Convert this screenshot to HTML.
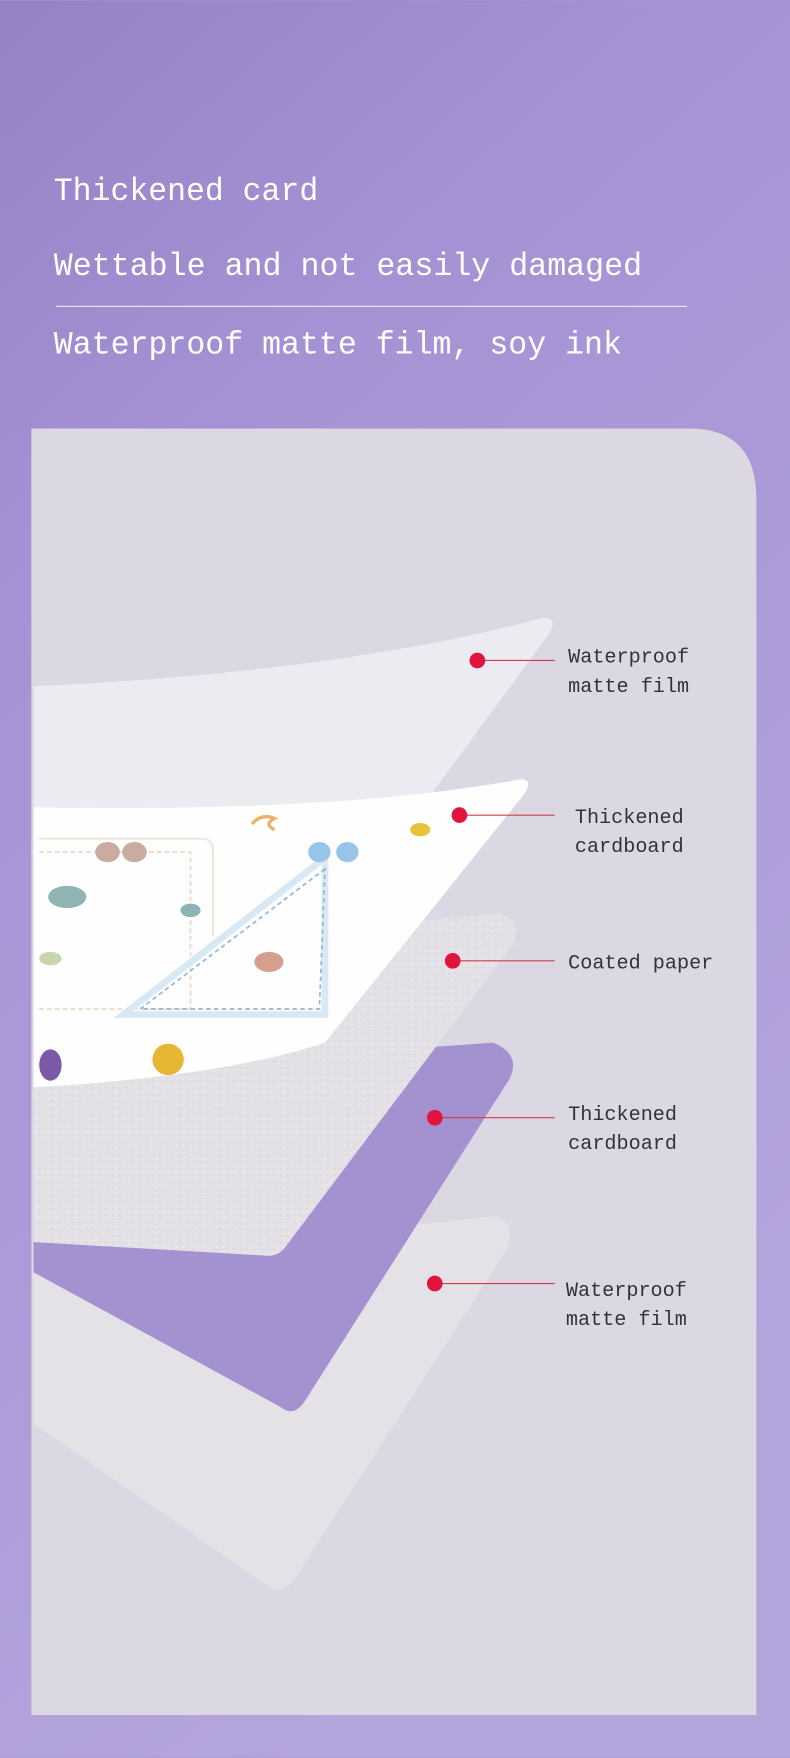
<!DOCTYPE html>
<html><head><meta charset="utf-8"><style>
html,body{margin:0;padding:0}
body{width:790px;height:1758px;overflow:hidden;background:#a794d4}
svg{display:block}
</style></head><body>
<svg width="790" height="1758" viewBox="0 0 705 1568" xmlns="http://www.w3.org/2000/svg">
<defs>
<linearGradient id="bg" x1="0" y1="0" x2="0.4" y2="1">
<stop offset="0" stop-color="#9581c4"/><stop offset="0.3" stop-color="#a592d4"/><stop offset="1" stop-color="#b5a5dd"/>
</linearGradient>
<pattern id="gl" width="6" height="6" patternUnits="userSpaceOnUse">
<rect width="6" height="6" fill="#e3e0e6"/><rect x="1" y="2" width="1" height="1" fill="#f4f2f6"/><rect x="4" y="4" width="1" height="1" fill="#d2cdd6"/><rect x="3" y="0" width="1" height="1" fill="#ecebf0"/>
</pattern>
</defs>
<rect width="705" height="1568" fill="url(#bg)"/>
<g font-family="'Liberation Mono',monospace" fill="#fff" font-size="29">
<text x="48" y="178" textLength="236" lengthAdjust="spacingAndGlyphs">Thickened card</text>
<text x="48" y="245" textLength="525" lengthAdjust="spacingAndGlyphs">Wettable and not easily damaged</text>
<text x="48" y="315" textLength="507" lengthAdjust="spacingAndGlyphs">Waterproof matte film, soy ink</text>
</g>
<line x1="50" y1="273" x2="613" y2="273" stroke="#e8e0f5" stroke-width="1.2"/>
<path d="M28 382 H615 Q675 382 675 445 V1530 H28 Z" fill="#dcd8e3"/>
<path d="M30 1130 L440 1085 Q462 1090 452 1115 L262 1410 Q250 1425 235 1412 L30 1270 Z" fill="#e5e2e7"/>
<path d="M30 960 L440 930 Q465 940 455 962 L272 1250 Q262 1265 250 1255 L30 1135 Z" fill="#a491d0"/>
<path d="M30 850 L445 815 Q468 820 458 842 L255 1112 Q248 1122 235 1120 L30 1108 Z" fill="url(#gl)"/>
<path d="M30 612 Q300 600 485 551 Q498 551 490 565 L380 715 L30 730 Z" fill="#ecebf1"/>
<path d="M30 720 Q300 725 465 695 Q476 696 468 708 L290 930 Q200 960 30 970 Z" fill="#fefefe"/>
<g fill="none" stroke-width="1.5">
<path d="M35 748 H180 Q190 748 190 758 V835" stroke="#f3dfcf"/>
<path d="M35 760 H170 V900 H35" stroke="#f0d6c0" stroke-dasharray="4 3"/>
<path d="M290 765 L110 905 H290 Z" stroke="#d9e9f3" stroke-width="6"/>
<path d="M290 775 L125 900 H285 Z" stroke="#8fb8d6" stroke-dasharray="4 3"/>
</g>
<ellipse cx="96" cy="760" rx="11" ry="9" fill="#c9ab9f"/><ellipse cx="120" cy="760" rx="11" ry="9" fill="#c9ab9f"/>
<ellipse cx="285" cy="760" rx="10" ry="9" fill="#97c5ea"/><ellipse cx="310" cy="760" rx="10" ry="9" fill="#97c5ea"/>
<ellipse cx="60" cy="800" rx="17" ry="10" fill="#8fb4b4"/><ellipse cx="170" cy="812" rx="9" ry="6" fill="#8fb4b4"/>
<ellipse cx="45" cy="855" rx="10" ry="6" fill="#c8d6b0"/><ellipse cx="240" cy="858" rx="13" ry="9" fill="#d4a08d"/>
<circle cx="150" cy="945" r="14" fill="#e7b734"/><ellipse cx="45" cy="950" rx="10" ry="14" fill="#7a5aa8"/>
<ellipse cx="375" cy="740" rx="9" ry="6" fill="#e5c43a"/><path d="M225 735 q8 -10 20 -5 q-10 5 0 10" stroke="#eab26a" stroke-width="3" fill="none"/>
<g stroke="#d43a4e" stroke-width="1"><line x1="426" y1="589" x2="495" y2="589"/><line x1="410" y1="727" x2="495" y2="727"/><line x1="404" y1="857" x2="495" y2="857"/><line x1="388" y1="997" x2="495" y2="997"/><line x1="388" y1="1145" x2="495" y2="1145"/></g>
<g fill="#e0143c"><circle cx="426" cy="589" r="7"/><circle cx="410" cy="727" r="7"/><circle cx="404" cy="857" r="7"/><circle cx="388" cy="997" r="7"/><circle cx="388" cy="1145" r="7"/></g>
<g font-family="'Liberation Mono',monospace" fill="#333" font-size="18">
<text x="507" y="591">Waterproof</text><text x="507" y="617">matte film</text>
<text x="513" y="734">Thickened</text><text x="513" y="760">cardboard</text>
<text x="507" y="864">Coated paper</text>
<text x="507" y="999">Thickened</text><text x="507" y="1025">cardboard</text>
<text x="505" y="1156">Waterproof</text><text x="505" y="1182">matte film</text>
</g>
</svg>
</body></html>
